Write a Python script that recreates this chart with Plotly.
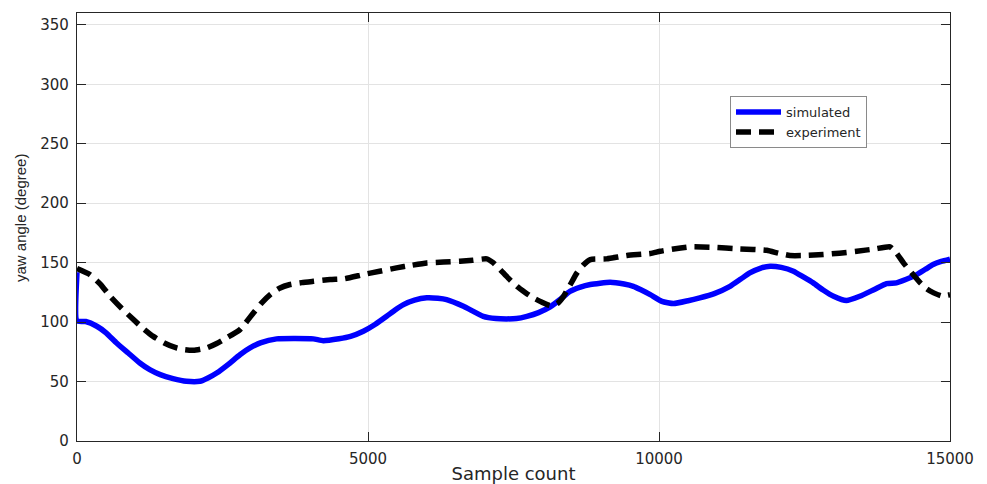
import plotly.graph_objects as go

# simulated yaw angle
sim_x = [0, 0, 150, 340, 500, 680, 880, 1080, 1250, 1430, 1650, 1880, 2110, 2250, 2400, 2600, 2800, 2980, 3150, 3430, 3750,
         4060, 4230, 4500, 4700, 4920, 5120, 5320, 5460, 5610, 5800, 6010, 6200, 6350, 6640, 6980, 7200, 7380, 7550,
         7730, 7930, 8130, 8300, 8470, 8650, 8820, 9160, 9400, 9560, 9680, 9850, 10050, 10250, 10500, 10700, 10950,
         11220, 11400, 11560, 11750, 11910, 12100, 12310, 12480, 12650, 12820, 13000, 13220, 13450, 13700, 13910,
         14080, 14250, 14430, 14580, 14710, 14850, 15000]
sim_y = [142, 101, 100.5, 96.5, 91, 82.5, 74, 65.6, 60, 55.8, 52.5, 50.2, 50.2, 53, 57.2, 64.5, 72.6, 78.5, 82.5, 85.9, 86.2,
         85.9, 84.4, 86, 88, 92.3, 98, 104.9, 110, 114.7, 118.5, 120.4, 120, 118.9, 113.3, 104.9, 103, 102.7, 103,
         104.9, 108, 112.8, 119, 125.9, 129.5, 131.6, 133.5, 132, 130.1, 127.4, 123.1, 117.5, 115.6, 118, 120.4, 124,
         130.1, 136, 141.4, 145.5, 147, 146, 142.8, 138, 133, 127, 121.7, 118.1, 121.7, 127.5, 132.4, 133, 136, 140,
         144.5, 148.4, 151, 153]

# experiment yaw angle
exp_x = [0, 220, 400, 570, 770, 970, 1140, 1310, 1500, 1710, 1850, 2000, 2230, 2400, 2570, 2800, 3030, 3170, 3320, 3480,
         3660, 3860, 4060, 4350, 4600, 4920, 5200, 5490, 5750, 6010, 6300, 6580, 6800, 7040, 7150, 7270, 7410, 7560,
         7700, 7840, 7990, 8130, 8250, 8360, 8470, 8590, 8700, 8820, 9100, 9450, 9850, 10020, 10250, 10530, 10900,
         11390, 11850, 12050, 12250, 12500, 12820, 13100, 13400, 13700, 13970, 14080, 14200, 14340, 14490, 14600,
         14720, 14860, 15000]
exp_y = [145, 140, 132, 121.7, 111.5, 102.1, 94.5, 88, 82.5, 78.3, 76.8, 76.3, 78.3, 82, 86.7, 93.7, 107.7, 116, 123.1, 128.5,
         131.6, 133.2, 134.3, 135.8, 136.5, 140, 142.8, 145.6, 147.8, 149.8, 150.5, 151.2, 152, 153.2, 150, 144.2,
         137, 130.1, 125, 120.4, 116.8, 113.9, 115.5, 121.7, 131, 141.4, 148, 152.6, 153.2, 156, 157.7, 159.6, 161.5,
         163.3, 163, 161.6, 160.4, 158, 156, 156, 156.8, 158, 159.6, 161.5, 163.3, 158, 149.8, 141.5, 133, 128,
         124.6, 122, 123]

x_ticks = [0, 5000, 10000, 15000]
y_ticks = [0, 50, 100, 150, 200, 250, 300, 350]

fig = go.Figure()
fig.add_trace(go.Scatter(x=sim_x, y=sim_y, mode="lines", name="simulated",
                         line=dict(color="#0000ff", width=5.5, shape="spline", smoothing=0.5)))
fig.add_trace(go.Scatter(x=exp_x, y=exp_y, mode="lines", name="experiment",
                         line=dict(color="#000000", width=5.5, dash="15px,8px", shape="spline", smoothing=0.5)))

axis_common = dict(showline=True, linecolor="#262626", linewidth=1.2, mirror="ticks",
                   ticks="inside", ticklen=9, tickcolor="#262626", automargin=False,
                   showgrid=True, gridcolor="#e3e3e3", gridwidth=1, zeroline=False,
                   tickfont=dict(family="DejaVu Sans, sans-serif", size=15, color="#262626"))

fig.update_xaxes(range=[0, 15000], tickvals=x_ticks, ticktext=[str(v) for v in x_ticks],
                 ticklabelstandoff=4,
                 title=dict(text="Sample count", standoff=3,
                            font=dict(family="DejaVu Sans, sans-serif", size=18, color="#262626")),
                 **axis_common)
fig.update_yaxes(range=[0, 360], tickvals=y_ticks, ticktext=[str(v) for v in y_ticks],
                 ticklabelstandoff=4, **axis_common)

fig.add_annotation(text="yaw angle (degree)", xref="paper", yref="paper",
                   x=-0.0653, y=0.521, xanchor="center", yanchor="middle",
                   textangle=-90, showarrow=False,
                   font=dict(family="Liberation Sans, Arial, sans-serif", size=15, color="#262626"))

fig.update_layout(
    width=987, height=484,
    margin=dict(l=77, r=37, t=13, b=43),
    plot_bgcolor="white", paper_bgcolor="white",
    showlegend=True,
    legend=dict(x=0.748, y=0.806, xanchor="left", yanchor="top",
                bgcolor="white", bordercolor="#8a8a8a", borderwidth=1,
                font=dict(family="DejaVu Sans, sans-serif", size=13, color="#262626"),
                tracegroupgap=0, itemwidth=45),
)

fig.write_html("out.html")
